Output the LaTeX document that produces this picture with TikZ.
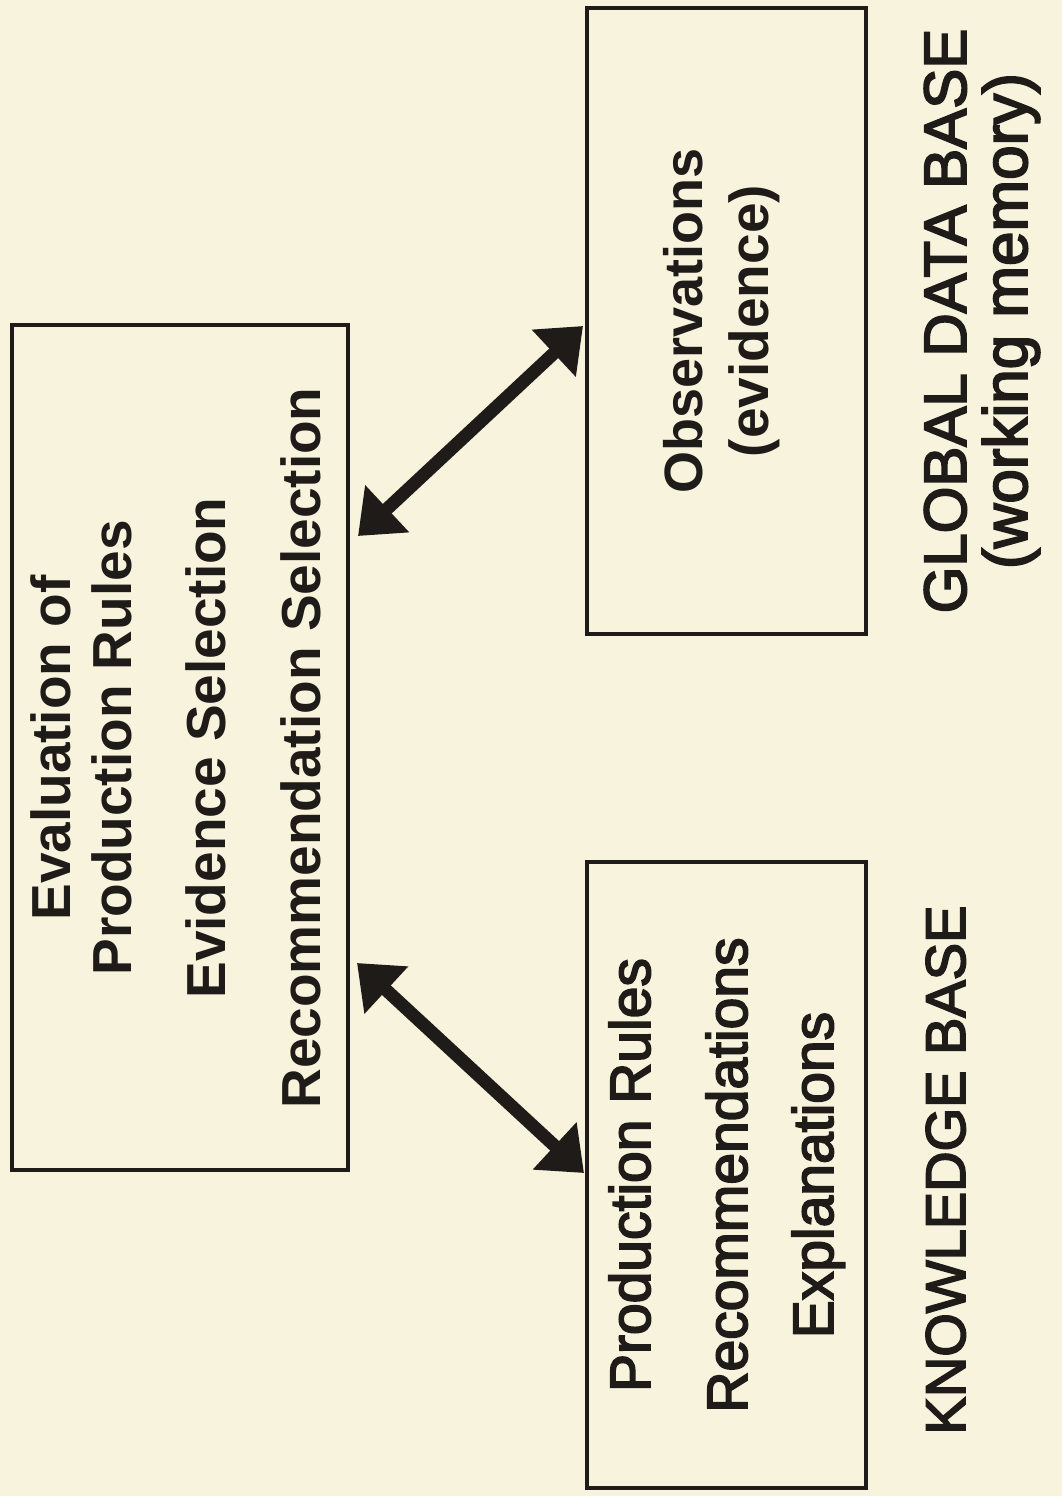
\documentclass[tikz,border=0pt]{standalone}
\usepackage{fontspec}
\setmainfont{Liberation Sans}
\newfontfamily\medfont[FakeBold=3]{Liberation Sans}
\usetikzlibrary{arrows.meta}
\definecolor{paper}{RGB}{247,243,220}
\definecolor{ink}{RGB}{30,27,25}
\begin{document}
\begin{tikzpicture}[x=1pt,y=-1pt,
  box/.style={draw=ink, line width=4pt, inner sep=0pt, outer sep=0pt},
  boldtxt/.style={rotate=90, anchor=base, text=ink, inner sep=0pt, font=\fontsize{55}{60}\selectfont\bfseries},
  medtxt/.style={rotate=90, anchor=base, text=ink, inner sep=0pt, font=\fontsize{57}{62}\selectfont\medfont},
  link/.style={draw=ink, line width=13pt, {Triangle[length=40pt,width=62pt]}-{Triangle[length=40pt,width=62pt]}}]
\fill[paper] (0,0) rectangle (1062,1496);
\useasboundingbox (0,0) rectangle (1062,1496);
% boxes
\node[box, minimum width=336pt, minimum height=845pt] (engine) at (180,747.5) {};
\node[box, minimum width=279pt, minimum height=626pt] (gdb) at (726.5,321) {};
\node[box, minimum width=279pt, minimum height=626pt] (kb) at (726.5,1175) {};
% left box text
\node[boldtxt] (t1) at (70,748) {Evaluation of};
\node[boldtxt] (t2) at (131,748) {Production Rules};
\node[boldtxt] (t3) at (225,748) {Evidence Selection};
\node[boldtxt] (t4) at (320,748) {Recommendation Selection};
% top right box
\node[boldtxt, font=\fontsize{54}{60}\selectfont\bfseries] (o1) at (702,321) {Observations};
\node[boldtxt] (o2) at (768,321) {(evidence)};
\node[medtxt, font=\fontsize{60}{64}\selectfont\medfont] (l1) at (966,321) {GLOBAL DATA BASE};
\node[medtxt, font=\fontsize{62}{66}\selectfont\medfont] (l2) at (1027,321) {(working memory)};
% bottom right box
\node[medtxt] (k1) at (650,1175) {Production Rules};
\node[medtxt] (k2) at (747,1175) {Recommendations};
\node[medtxt] (k3) at (833,1175) {Explanations};
\node[medtxt, font=\fontsize{56}{60}\selectfont\medfont] (l3) at (965,1170) {KNOWLEDGE BASE};
% arrows
\coordinate (u1) at (358,536);
\coordinate (u2) at (583,326);
\coordinate (d1) at (357,963);
\coordinate (d2) at (584,1173);
\draw[link] (u1) -- (u2);
\draw[link] (d1) -- (d2);
\end{tikzpicture}
\end{document}
